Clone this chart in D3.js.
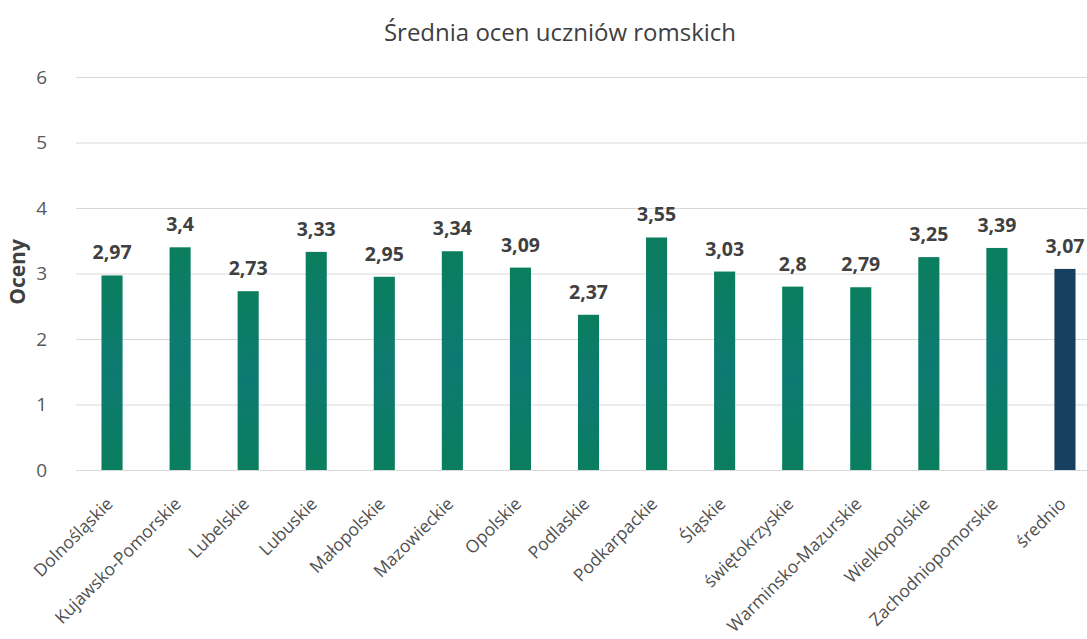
<!DOCTYPE html>
<html>
<head>
<meta charset="utf-8">
<script src="https://cdn.jsdelivr.net/npm/d3@7.9.0/dist/d3.min.js"></script>
<style>
  body { margin: 0; background: #fff; }
  svg { display: block; font-family: 'Open Sans', sans-serif; }
</style>
</head>
<body>
<svg width="1087" height="639"></svg>
<script>
// data
const regions = ['Dolnośląskie', 'Kujawsko-Pomorskie', 'Lubelskie', 'Lubuskie', 'Małopolskie',
  'Mazowieckie', 'Opolskie', 'Podlaskie', 'Podkarpackie', 'Śląskie', 'świętokrzyskie',
  'Warminsko-Mazurskie', 'Wielkopolskie', 'Zachodniopomorskie', 'średnio'];
const grades = [2.97, 3.4, 2.73, 3.33, 2.95, 3.34, 3.09, 2.37, 3.55, 3.03, 2.8, 2.79, 3.25, 3.39, 3.07];
const yTicks = [0, 1, 2, 3, 4, 5, 6];

const svg = d3.select('svg');

let x = d3.scaleBand().domain(regions).range([78, 1099]).paddingInner(0.69).paddingOuter(0.345);
let y = d3.scaleLinear().domain([0, 6]).range([470, 77]);

// gradient for bars (scan looks teal in the middle)
const defs = svg.append('defs');
const g1 = defs.append('linearGradient').attr('id', 'gr').attr('x1', 0).attr('x2', 0).attr('y1', 0).attr('y2', 1);
g1.append('stop').attr('offset', '0%').attr('stop-color', '#0a7e5e');
g1.append('stop').attr('offset', '50%').attr('stop-color', '#0d7a72');
g1.append('stop').attr('offset', '100%').attr('stop-color', '#0a7e5e');

// title
svg.append('text')
  .attr('x', 560).attr('y', 41)
  .attr('text-anchor', 'middle')
  .attr('font-size', 24).attr('fill', '#404040')
  .text('Średnia ocen uczniów romskich');

// grid + y labels
const yAxis = svg.append('g').attr('transform', 'translate(76,0)')
  .call(d3.axisLeft(y).tickValues(yTicks).tickFormat(d3.format('d')).tickSize(-1011).tickPadding(29));
yAxis.select('.domain').remove();
yAxis.selectAll('line').attr('stroke', '#d9d9d9');
yAxis.selectAll('text').attr('font-size', 19).attr('fill', '#595959')
  .attr('font-family', 'Open Sans, sans-serif');

svg.append('text')
  .attr('transform', 'translate(25,272) rotate(-90)')
  .attr('text-anchor', 'middle')
  .attr('font-size', 21).attr('font-weight', 'bold').attr('fill', '#404040')
  .text('Oceny');

// bars
svg.selectAll('rect.bar').data(grades).join('rect')
  .attr('class', 'bar')
  .attr('x', (d, i) => x(regions[i]))
  .attr('width', x.bandwidth())
  .attr('y', d => y(d))
  .attr('height', d => y(0) - y(d))
  .attr('fill', (d, i) => i === regions.length - 1 ? '#173f5f' : 'url(#gr)');

// value labels
svg.selectAll('text.val').data(grades).join('text')
  .attr('class', 'val')
  .attr('x', (d, i) => x(regions[i]) + x.bandwidth() / 2)
  .attr('y', d => y(d) - 16)
  .attr('text-anchor', 'middle')
  .attr('font-size', 19.5).attr('font-weight', 'bold').attr('fill', '#404040')
  .text(d => String(d).replace('.', ','));

// category labels
svg.selectAll('text.cat').data(regions).join('text')
  .attr('class', 'cat')
  .attr('transform', d => `translate(${x(d) + x.bandwidth() / 2 + 2},505) rotate(-45)`)
  .attr('text-anchor', 'end')
  .attr('font-size', 17.5).attr('fill', '#505050')
  .text(d => d);
</script>
</body>
</html>
